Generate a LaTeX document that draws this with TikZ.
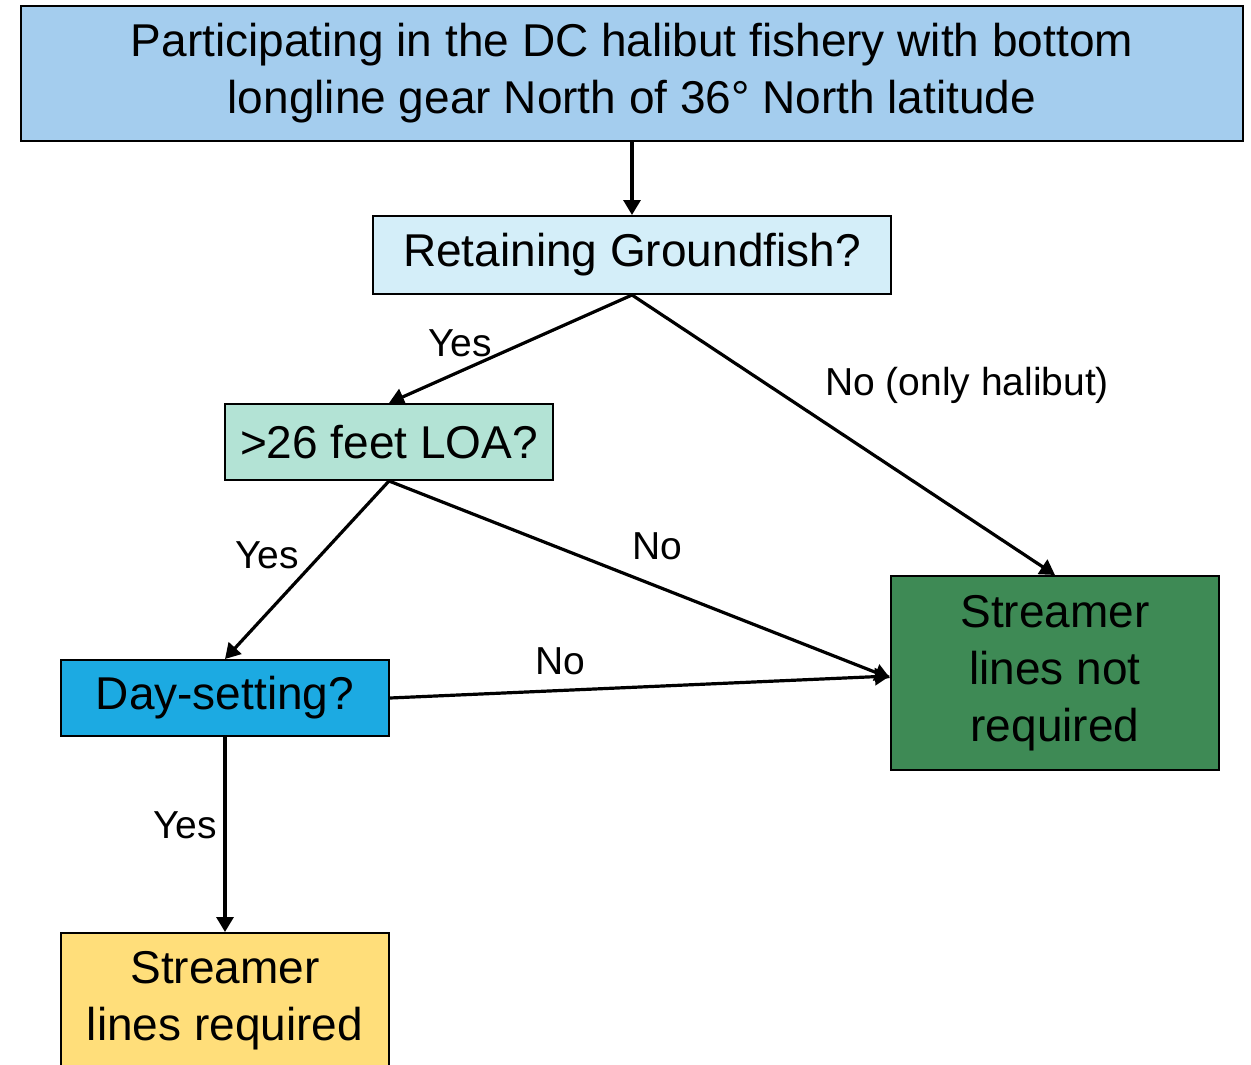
\documentclass[tikz,border=0pt]{standalone}
\usepackage{fontspec}
\setmainfont{Liberation Sans}
\usetikzlibrary{arrows.meta}
\definecolor{topblue}{HTML}{A4CDEE}
\definecolor{paleblue}{HTML}{D4EEF9}
\definecolor{mint}{HTML}{B3E3D5}
\definecolor{cyanbox}{HTML}{1CAAE2}
\definecolor{greenbox}{HTML}{3E8A55}
\definecolor{yellowbox}{HTML}{FFDE7A}
\tikzset{
  box/.style={draw=black, line width=2pt, inner sep=0pt, align=center,
    font=\fontsize{46}{57}\selectfont},
  conn/.style={line width=3.2pt, -{Triangle[width=17pt,length=15pt]}},
  lbl/.style={font=\fontsize{39}{44}\selectfont, inner sep=0pt}
}
\begin{document}
\begin{tikzpicture}[x=1pt,y=-1pt]
\useasboundingbox (0,0) rectangle (1251,1065);
\clip (0,0) rectangle (1251,1065);
\node[box, fill=topblue, minimum width=1222pt, minimum height=135pt] (top) at (632,73.5)
  {Participating in the DC halibut fishery with bottom\\longline gear North of 36° North latitude};
\node[box, fill=paleblue, minimum width=518pt, minimum height=78pt] (ret) at (632,255)
  {Retaining Groundfish?};
\node[box, fill=mint, minimum width=328pt, minimum height=76pt] (loa) at (389,442)
  {>26 feet LOA?};
\node[box, fill=cyanbox, minimum width=328pt, minimum height=76pt] (day) at (225,698)
  {Day-setting?};
\node[box, fill=greenbox, minimum width=328pt, minimum height=194pt] (nreq) at (1055,673)
  {Streamer\\lines not\\required};
\node[box, fill=yellowbox, minimum width=328pt, minimum height=160pt, anchor=north] (req) at (225,932) {};
\node[font=\fontsize{46}{57}\selectfont, align=center, inner sep=0pt] (reqtext) at (225,1001) {Streamer\\lines required};
\draw[conn] (top.south) -- (ret.north);
\draw[conn] (ret.south) -- (loa.north);
\draw[conn] (ret.south) -- (nreq.north);
\draw[conn] (loa.south) -- ([yshift=-5pt]nreq.west);
\draw[conn] (loa.south) -- (day.north);
\draw[conn] (day.east) -- ([yshift=-3pt]nreq.west);
\draw[conn] (day.south) -- (req.north);
\node[lbl] (l1) at (460,343) {Yes};
\node[lbl] (l2) at (967,385) {No (only halibut)};
\node[lbl] (l3) at (267,555) {Yes};
\node[lbl] (l4) at (657,546) {No};
\node[lbl] (l5) at (560,661) {No};
\node[lbl] (l6) at (185,825) {Yes};
\end{tikzpicture}
\end{document}
